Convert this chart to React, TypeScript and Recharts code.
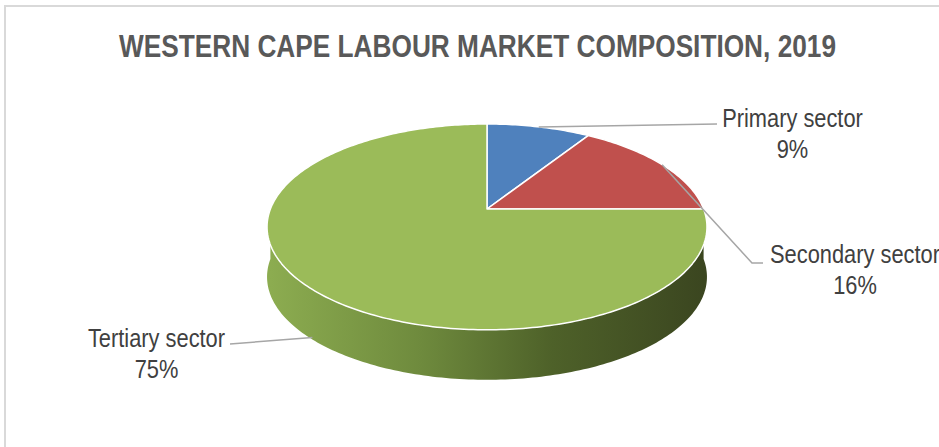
import { Pie, PieChart } from "recharts";

// Western Cape labour market composition, 2019 (share of employment, %)
const SECTORS = ["Primary sector", "Secondary sector", "Tertiary sector"];
const SHARES = [9, 16, 75];
const COLORS = ["#4F81BD", "#C0504D", "#9BBB59"];
const TITLE = "WESTERN CAPE LABOUR MARKET COMPOSITION, 2019";

const data = SECTORS.map((name, i) => ({ name, value: SHARES[i] }));

// pie geometry: a tilted disc drawn in perspective
const CX = 487;
const CY = 209;
const SX = 216.6;
const SY = 99.8;
const PERSP = 0.174;
const DEPTH = 50;

// where each data label sits (leader-line end, optional elbow, text centre)
const LABELS = [
  { elbow: null, end: [717, 124], tx: 792.5, ty: 127 },
  { elbow: [752, 263], end: [763, 263], tx: 855, ty: 263 },
  { elbow: null, end: [230, 344], tx: 156.5, ty: 347 },
];

const FONT = "'Liberation Sans Narrow', 'Arial Narrow', 'Liberation Sans', Arial, sans-serif";
const NARROW = 0.84;
const TITLE_NARROW = 0.82;

function proj(deg: number, dy = 0): [number, number] {
  const r = (deg * Math.PI) / 180;
  const X = Math.cos(r);
  const Z = Math.sin(r);
  const k = 1 + PERSP * Z;
  return [CX + (SX * X) / k, CY - (SY * Z) / k + dy];
}

function arc(a: number, b: number, dy = 0) {
  const n = Math.max(2, Math.ceil(Math.abs(b - a)));
  const pts: string[] = [];
  for (let i = 0; i <= n; i++) {
    const p = proj(a + ((b - a) * i) / n, dy);
    pts.push(`${p[0].toFixed(2)},${p[1].toFixed(2)}`);
  }
  return pts;
}

// part of a slice that faces the viewer (angles 180..360)
function frontPart(s: number, e: number): [number, number] | null {
  const lo = Math.min(s, e);
  const hi = Math.max(s, e);
  for (let k = -2; k <= 1; k++) {
    const f0 = 180 + 360 * k;
    const f1 = 360 + 360 * k;
    const a = Math.max(lo, f0);
    const b = Math.min(hi, f1);
    if (b > a) return [a, b];
  }
  return null;
}

function renderSlice(props: any) {
  const { startAngle, endAngle, index } = props;
  const top = arc(startAngle, endAngle);
  const front = frontPart(startAngle, endAngle);
  let wall = null;
  if (front) {
    const upper = arc(front[0], front[1]);
    const lower = arc(front[1], front[0], DEPTH);
    wall = (
      <path d={`M${upper.join("L")}L${lower.join("L")}Z`} fill="url(#wallGrad)" stroke="none" />
    );
  }
  return (
    <g key={`slice-${index}`}>
      <defs>
        <linearGradient id="wallGrad" gradientUnits="userSpaceOnUse" x1={CX - SX} y1={0} x2={CX + SX} y2={0}>
          <stop offset="0%" stopColor="#8CAC50" />
          <stop offset="35%" stopColor="#6E8A3D" />
          <stop offset="65%" stopColor="#4E6129" />
          <stop offset="100%" stopColor="#3B4620" />
        </linearGradient>
      </defs>
      {wall}
      <path
        d={`M${CX},${CY}L${top.join("L")}Z`}
        fill={COLORS[index]}
        stroke="#FFFFFF"
        strokeWidth={1.5}
        strokeLinejoin="round"
      />
    </g>
  );
}

function renderLabel(props: any) {
  const { midAngle, index, percent, name } = props;
  const lay = LABELS[index];
  const isFront = frontPart(midAngle - 0.01, midAngle + 0.01) !== null;
  const start = proj(midAngle, isFront ? DEPTH - 2 : 0);
  const pts = [start, ...(lay.elbow ? [lay.elbow] : []), lay.end];
  return (
    <g key={`label-${index}`}>
      <polyline points={pts.map((p) => p.join(",")).join(" ")} fill="none" stroke="#A6A6A6" strokeWidth={1.5} />
      <text
        x={lay.tx}
        y={lay.ty}
        textAnchor="middle"
        fill="#404040"
        fontSize={26}
        fontFamily={FONT}
        transform={`translate(${lay.tx},0) scale(${NARROW},1) translate(${-lay.tx},0)`}
      >
        <tspan x={lay.tx} y={lay.ty}>{name}</tspan>
        <tspan x={lay.tx} y={lay.ty + 31}>{`${Math.round(percent * 100)}%`}</tspan>
      </text>
    </g>
  );
}

export default function App() {
  return (
    <div style={{ position: "absolute", left: 0, top: 0, width: 939, height: 447, overflow: "hidden", background: "#fff" }}>
      <div
        style={{
          position: "absolute",
          left: 4,
          top: 5,
          width: 935,
          height: 442,
          boxSizing: "border-box",
          borderLeft: "2px solid #D9D9D9",
          borderTop: "2px solid #D9D9D9",
        }}
      />
      <svg width={939} height={80} style={{ position: "absolute", left: 0, top: 0 }}>
        <text
          x={477.5}
          y={57}
          textAnchor="middle"
          fontFamily={FONT}
          fontWeight={700}
          fontSize={32}
          fill="#595959"
          transform={`translate(477.5,0) scale(${TITLE_NARROW},1) translate(-477.5,0)`}
        >
          {TITLE}
        </text>
      </svg>
      <div style={{ position: "absolute", left: 0, top: 0 }}>
        <PieChart width={939} height={447}>
          <Pie
            data={data}
            dataKey="value"
            nameKey="name"
            cx={CX}
            cy={CY}
            outerRadius={SY}
            startAngle={90}
            endAngle={-270}
            fill="transparent"
            stroke="none"
            label={renderSlice}
            labelLine={false}
            isAnimationActive={false}
          />
          <Pie
            data={data}
            dataKey="value"
            nameKey="name"
            cx={CX}
            cy={CY}
            outerRadius={SY}
            startAngle={90}
            endAngle={-270}
            fill="transparent"
            stroke="none"
            label={renderLabel}
            labelLine={false}
            isAnimationActive={false}
          />
        </PieChart>
      </div>
    </div>
  );
}
